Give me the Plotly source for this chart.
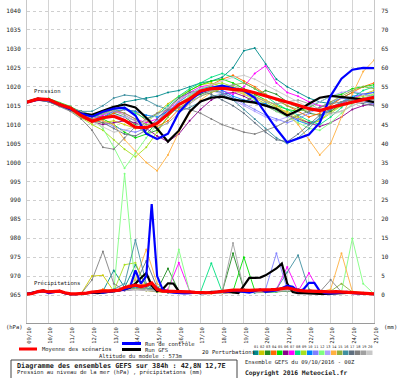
import plotly.graph_objects as go

# ---------------- data ----------------
hours12 = list(range(0, 385, 12))
hours6 = list(range(0, 385, 6))
day_ticks = list(range(0, 385, 24))
day_labels = ["09/10", "10/10", "11/10", "12/10", "13/10", "14/10", "15/10", "16/10", "17/10",
              "18/10", "19/10", "20/10", "21/10", "22/10", "23/10", "24/10", "25/10"]
hpa_ticks = list(range(965, 1041, 5))
mm_ticks = list(range(0, 76, 5))

member_colors = ["#008b8b", "#c8c800", "#228b22", "#ff6a00", "#00e000", "#8b008b", "#ff00ff",
                 "#00e080", "#a8e020", "#0080ff", "#8080ff", "#80ff80", "#b0a0ff", "#ffb040",
                 "#90b040", "#4090a0", "#607080", "#808080", "#a0a0a0", "#c8c8c8"]

# Ensemble mean / control / GFS sea-level pressure (hPa), 12h steps
mean_p = [1015.9, 1016.8, 1016.6, 1015.3, 1014.4, 1012.4, 1010.9, 1011.8, 1012.2, 1011.1, 1009.3,
          1009.2, 1010.3, 1012.9, 1015.3, 1016.8, 1018.9, 1019.5, 1019.6, 1019.3, 1019.1, 1018.4,
          1017.6, 1016.8, 1016.1, 1015.1, 1014.2, 1013.7, 1014.5, 1015.3, 1015.9, 1016.6, 1017.2]
ctrl_p = [1015.9, 1016.6, 1016.4, 1015.3, 1014.2, 1012.9, 1012.1, 1013.4, 1014.2, 1014.5, 1012.4,
          1007.6, 1006.2, 1007.6, 1013.2, 1016.3, 1018.5, 1019.7, 1020.3, 1019.7, 1018.9, 1017.1,
          1012.9, 1008.9, 1005.3, 1006.3, 1007.4, 1010.5, 1017.6, 1022.1, 1024.5, 1025.0, 1024.9]
gfs_p = [1015.9, 1016.8, 1016.6, 1015.3, 1014.2, 1012.9, 1012.6, 1013.7, 1014.7, 1015.3, 1014.5,
         1011.8, 1008.9, 1005.5, 1008.4, 1013.4, 1016.1, 1017.1, 1017.4, 1016.6, 1016.1, 1015.8,
         1015.0, 1014.2, 1012.4, 1013.7, 1015.5, 1017.1, 1017.6, 1017.4, 1017.0, 1016.6, 1015.9]

# Precipitation (mm), 6h steps
mean_r = [0.2, 0.4, 0.9, 1.1, 0.8, 0.9, 1.0, 0.6, 0.3, 0.3, 0.3, 0.5, 0.8, 1.0, 1.0, 1.0, 1.1,
          1.3, 2.0, 2.4, 2.6, 2.2, 2.5, 3.2, 1.5, 1.0, 1.0, 1.0, 0.9, 0.9, 0.8, 0.7, 0.6, 0.6,
          0.6, 0.8, 1.0, 1.2, 1.3, 1.3, 1.2, 1.2, 1.3, 1.3, 1.2, 1.4, 1.5, 1.7, 1.9, 1.6, 1.2,
          1.1, 1.0, 0.9, 0.8, 0.7, 0.8, 0.9, 0.8, 0.7, 0.8, 0.6, 0.5, 0.4, 0.3]
ctrl_r = [0.3, 0.5, 0.8, 1.0, 0.5, 0.8, 1.0, 0.5, 0.2, 0.2, 0.3, 0.5, 0.6, 0.8, 0.6, 0.8, 1.0,
          1.2, 1.5, 2.0, 6.5, 3.0, 5.0, 24.0, 5.0, 1.5, 0.8, 0.6, 0.5, 0.4, 0.5, 0.6, 0.5, 0.5,
          0.6, 0.8, 1.0, 0.8, 1.2, 1.0, 0.8, 0.6, 1.0, 1.5, 0.8, 1.0, 1.2, 1.8, 2.5, 2.2, 1.0,
          1.5, 3.2, 3.2, 1.0, 0.5, 0.4, 0.5, 0.6, 0.8, 0.5, 0.4, 0.5, 0.3, 0.2]
gfs_r = [0.3, 0.6, 1.0, 1.2, 0.8, 0.9, 1.0, 0.5, 0.2, 0.2, 0.3, 0.5, 0.6, 0.5, 0.6, 0.8, 1.0,
         1.2, 1.5, 2.0, 3.0, 4.5, 5.8, 2.5, 1.0, 1.5, 3.1, 3.0, 1.0, 0.6, 0.8, 0.6, 0.5, 0.5,
         0.8, 0.8, 1.0, 0.8, 0.6, 0.5, 2.5, 4.5, 4.5, 4.6, 5.2, 6.0, 7.0, 8.3, 3.0, 0.8, 0.5,
         0.5, 0.4, 0.4, 0.3, 0.3, 0.4, 0.4, 0.5, 0.5, 0.6, 0.5, 0.4, 0.3, 0.2]

# 20 perturbations: pressure (hPa), 12h steps
pres_01 = [1016.0, 1016.9, 1016.4, 1015.6, 1014.6, 1013.0, 1012.0, 1013.0, 1014.5, 1016.0, 1016.5, 1017.0, 1017.5, 1018.5, 1019.0, 1020.0, 1021.0, 1021.5, 1022.5, 1025.0, 1029.5, 1030.2, 1026.0, 1022.0, 1020.0, 1018.5, 1017.0, 1016.0, 1015.5, 1017.0, 1018.5, 1018.0, 1017.5]
pres_02 = [1015.8, 1016.5, 1016.8, 1015.2, 1014.0, 1012.5, 1011.0, 1010.5, 1011.0, 1010.0, 1009.0, 1010.5, 1013.0, 1015.5, 1017.5, 1019.0, 1020.5, 1021.0, 1020.0, 1019.0, 1018.5, 1017.0, 1015.5, 1014.0, 1013.5, 1012.0, 1010.5, 1011.0, 1013.5, 1015.0, 1016.5, 1018.0, 1019.0]
pres_03 = [1016.2, 1017.0, 1016.2, 1015.0, 1014.5, 1013.5, 1012.5, 1012.0, 1013.0, 1012.0, 1010.0, 1007.5, 1008.5, 1012.0, 1015.0, 1017.0, 1018.0, 1019.0, 1018.5, 1017.0, 1016.0, 1017.5, 1019.0, 1018.0, 1016.0, 1014.5, 1013.0, 1012.5, 1013.5, 1015.5, 1017.0, 1016.0, 1015.5]
pres_04 = [1015.9, 1016.6, 1016.3, 1015.5, 1014.0, 1012.0, 1010.5, 1011.5, 1013.0, 1014.0, 1013.5, 1011.0, 1009.5, 1011.0, 1014.0, 1016.5, 1018.5, 1020.5, 1022.0, 1023.0, 1021.5, 1020.0, 1018.0, 1016.5, 1015.0, 1013.5, 1012.0, 1013.0, 1015.0, 1017.0, 1018.5, 1020.0, 1021.0]
pres_05 = [1016.0, 1016.8, 1016.9, 1015.8, 1014.8, 1013.2, 1012.2, 1011.5, 1010.0, 1008.0, 1006.5, 1007.5, 1010.5, 1014.0, 1017.0, 1019.0, 1020.5, 1021.5, 1022.0, 1021.0, 1019.5, 1018.0, 1016.5, 1015.0, 1014.0, 1013.5, 1014.5, 1016.0, 1017.5, 1018.0, 1019.5, 1020.0, 1020.5]
pres_06 = [1015.7, 1016.4, 1016.1, 1015.0, 1013.8, 1012.0, 1010.8, 1010.0, 1010.5, 1011.0, 1010.5, 1009.0, 1007.0, 1005.5, 1007.5, 1011.0, 1014.0, 1016.5, 1018.0, 1018.5, 1017.5, 1016.0, 1015.0, 1013.5, 1012.5, 1011.5, 1010.5, 1009.5, 1010.5, 1012.0, 1014.0, 1015.0, 1015.5]
pres_07 = [1016.1, 1016.9, 1016.6, 1015.4, 1014.3, 1012.8, 1011.5, 1012.5, 1013.5, 1013.0, 1011.5, 1010.5, 1011.5, 1014.0, 1016.5, 1018.5, 1020.0, 1020.5, 1019.0, 1018.0, 1020.0, 1023.5, 1025.5, 1021.0, 1018.5, 1017.5, 1016.0, 1015.0, 1014.5, 1015.5, 1017.0, 1018.0, 1018.5]
pres_08 = [1015.8, 1016.7, 1016.5, 1015.3, 1014.4, 1013.0, 1012.0, 1012.8, 1014.0, 1014.5, 1013.0, 1011.5, 1012.5, 1015.0, 1017.5, 1019.5, 1021.0, 1022.5, 1023.5, 1022.5, 1021.0, 1019.5, 1017.5, 1015.5, 1014.0, 1012.5, 1011.0, 1010.0, 1012.0, 1014.5, 1017.0, 1019.0, 1020.0]
pres_09 = [1016.0, 1016.5, 1016.0, 1015.0, 1013.8, 1011.8, 1010.0, 1008.5, 1006.0, 1003.5, 1001.5, 1004.0, 1008.0, 1012.0, 1015.0, 1017.5, 1019.5, 1020.5, 1021.0, 1020.0, 1019.0, 1017.5, 1016.0, 1014.5, 1013.0, 1011.5, 1010.0, 1011.0, 1013.0, 1015.0, 1016.5, 1017.5, 1018.0]
pres_10 = [1016.1, 1016.8, 1016.4, 1015.4, 1014.2, 1012.6, 1011.3, 1012.0, 1013.5, 1014.0, 1013.5, 1012.5, 1012.0, 1013.5, 1016.0, 1018.0, 1019.5, 1020.0, 1019.0, 1017.5, 1016.5, 1016.0, 1015.5, 1014.0, 1012.5, 1011.0, 1010.0, 1011.5, 1014.0, 1016.0, 1017.5, 1018.0, 1018.5]
pres_11 = [1015.9, 1016.6, 1016.6, 1015.6, 1014.5, 1013.3, 1012.3, 1011.0, 1009.5, 1008.5, 1008.0, 1009.0, 1011.0, 1013.5, 1016.0, 1018.0, 1019.0, 1019.5, 1018.5, 1017.0, 1015.5, 1014.0, 1012.5, 1011.5, 1010.5, 1011.5, 1013.0, 1014.5, 1016.0, 1017.0, 1016.5, 1016.0, 1015.5]
pres_12 = [1016.0, 1016.8, 1016.3, 1015.2, 1014.0, 1012.5, 1011.5, 1009.0, 1004.0, 998.5, 1002.5, 1006.5, 1010.0, 1013.0, 1015.5, 1017.5, 1019.0, 1020.0, 1020.5, 1019.0, 1018.0, 1016.5, 1015.0, 1013.5, 1012.0, 1010.5, 1009.0, 1008.5, 1010.5, 1013.0, 1015.5, 1017.0, 1018.0]
pres_13 = [1015.8, 1016.5, 1016.2, 1015.1, 1014.1, 1012.4, 1011.2, 1011.8, 1012.5, 1012.0, 1011.0, 1010.0, 1010.5, 1012.5, 1015.0, 1017.0, 1018.5, 1019.0, 1018.0, 1016.5, 1015.0, 1013.5, 1012.0, 1011.0, 1012.0, 1013.5, 1015.0, 1016.0, 1017.5, 1018.5, 1019.0, 1018.0, 1017.0]
pres_14 = [1016.0, 1016.7, 1016.5, 1015.5, 1014.5, 1013.0, 1011.8, 1011.0, 1010.0, 1006.0, 1003.0, 1000.0, 997.8, 1002.0, 1008.0, 1013.0, 1016.5, 1018.5, 1019.5, 1019.0, 1018.0, 1017.0, 1016.5, 1015.0, 1013.0, 1010.0, 1006.0, 1002.0, 1005.0, 1012.0, 1018.0, 1024.0, 1027.0]
pres_15 = [1016.1, 1016.9, 1016.7, 1015.7, 1014.7, 1013.1, 1012.1, 1013.0, 1014.0, 1013.0, 1011.5, 1010.0, 1010.5, 1012.5, 1014.5, 1016.0, 1017.5, 1018.5, 1019.5, 1020.5, 1021.0, 1019.5, 1018.0, 1016.5, 1015.0, 1014.0, 1013.5, 1014.5, 1016.0, 1017.5, 1019.0, 1020.0, 1019.5]
pres_16 = [1015.9, 1016.6, 1016.0, 1015.0, 1014.2, 1013.5, 1013.5, 1015.0, 1017.0, 1017.8, 1017.5, 1016.5, 1015.0, 1014.0, 1013.5, 1014.5, 1016.0, 1017.5, 1018.0, 1016.5, 1014.0, 1011.5, 1009.0, 1006.5, 1005.0, 1006.5, 1009.0, 1012.0, 1014.5, 1016.0, 1017.0, 1016.5, 1016.0]
pres_17 = [1016.0, 1016.8, 1016.4, 1015.3, 1014.3, 1012.7, 1011.4, 1010.5, 1009.0, 1007.5, 1007.0, 1008.5, 1011.5, 1014.5, 1017.0, 1018.5, 1019.0, 1018.0, 1016.5, 1015.0, 1013.0, 1010.5, 1008.0, 1006.0, 1005.5, 1007.5, 1010.0, 1012.5, 1014.0, 1015.5, 1016.0, 1015.5, 1015.0]
pres_18 = [1015.8, 1016.5, 1016.0, 1014.8, 1013.5, 1011.5, 1008.5, 1004.0, 1003.5, 1006.5, 1009.5, 1011.5, 1013.0, 1014.0, 1014.5, 1014.0, 1013.0, 1011.5, 1010.0, 1009.0, 1008.0, 1007.5, 1008.5, 1009.5, 1011.0, 1012.5, 1013.5, 1014.5, 1015.5, 1016.0, 1016.5, 1017.0, 1016.5]
pres_19 = [1016.2, 1017.0, 1016.7, 1015.6, 1014.6, 1013.3, 1012.5, 1012.8, 1013.5, 1012.5, 1011.0, 1009.5, 1009.0, 1010.5, 1013.0, 1015.5, 1017.5, 1019.0, 1020.0, 1020.5, 1019.0, 1017.5, 1016.0, 1015.5, 1016.0, 1016.5, 1015.5, 1014.0, 1013.0, 1013.5, 1015.0, 1016.0, 1016.5]
pres_20 = [1015.9, 1016.6, 1016.2, 1015.2, 1014.0, 1012.2, 1010.8, 1009.5, 1008.0, 1008.5, 1009.5, 1011.0, 1012.5, 1014.5, 1016.5, 1018.0, 1019.5, 1020.5, 1021.5, 1022.5, 1023.0, 1022.0, 1020.5, 1019.0, 1017.5, 1016.0, 1014.5, 1013.5, 1012.5, 1013.5, 1015.0, 1016.0, 1017.0]

# 20 perturbations: precipitation (mm), 12h steps
rain_01 = [0.2, 0.8, 0.9, 1.0, 0.2, 0.3, 0.5, 1.0, 6.5, 2.0, 8.0, 2.5, 1.0, 0.6, 0.8, 0.5, 0.4, 0.6, 0.5, 0.9, 0.8, 0.6, 0.7, 1.1, 1.5, 1.0, 0.8, 0.5, 0.4, 0.6, 0.8, 0.5, 0.3]
rain_02 = [0.3, 1.0, 0.7, 1.1, 0.3, 0.4, 5.0, 5.2, 1.0, 1.5, 1.8, 1.2, 0.8, 0.7, 0.6, 0.5, 0.6, 0.4, 0.6, 0.7, 1.0, 0.9, 0.8, 0.9, 1.0, 1.2, 0.9, 0.6, 0.5, 0.7, 0.6, 0.4, 0.2]
rain_03 = [0.2, 0.9, 0.8, 0.9, 0.2, 0.2, 0.6, 0.7, 1.0, 1.5, 2.0, 1.4, 1.2, 7.0, 1.0, 0.6, 0.5, 0.5, 0.8, 11.0, 1.5, 0.8, 0.7, 0.8, 1.0, 0.9, 0.7, 0.6, 0.5, 0.5, 0.7, 0.6, 0.3]
rain_04 = [0.3, 0.8, 1.0, 1.2, 0.3, 0.3, 0.8, 1.5, 1.2, 2.0, 2.5, 3.0, 1.5, 0.8, 0.7, 0.5, 0.4, 0.5, 0.4, 0.7, 0.8, 1.0, 1.2, 1.5, 1.8, 1.2, 0.8, 0.6, 0.4, 0.5, 0.6, 0.5, 0.2]
rain_05 = [0.2, 1.0, 0.9, 1.0, 0.2, 0.3, 0.6, 0.8, 0.9, 1.6, 1.8, 1.5, 0.9, 0.9, 0.8, 0.6, 0.6, 0.7, 0.6, 1.0, 10.0, 1.2, 0.8, 1.0, 1.2, 1.0, 0.8, 0.5, 0.5, 0.6, 0.8, 0.5, 0.3]
rain_06 = [0.2, 0.8, 0.8, 1.0, 0.3, 0.3, 0.5, 0.8, 1.0, 1.4, 1.6, 1.8, 1.4, 1.0, 0.8, 0.6, 0.5, 0.5, 0.5, 0.9, 1.0, 0.8, 0.9, 1.2, 2.0, 1.5, 1.0, 0.6, 0.5, 0.6, 0.7, 0.5, 0.3]
rain_07 = [0.3, 0.9, 0.8, 1.1, 0.2, 0.3, 0.6, 0.9, 0.8, 1.2, 1.5, 1.3, 1.0, 1.5, 8.5, 1.0, 0.6, 0.5, 0.6, 0.8, 0.9, 0.8, 1.0, 1.5, 7.4, 1.0, 5.8, 0.8, 0.5, 0.5, 0.6, 0.4, 0.3]
rain_08 = [0.2, 0.9, 0.7, 1.0, 0.2, 0.2, 0.5, 0.8, 0.8, 1.3, 1.5, 1.4, 1.0, 0.8, 0.9, 0.7, 0.8, 8.4, 0.8, 0.8, 0.9, 0.8, 0.7, 0.9, 1.0, 0.9, 0.7, 0.6, 0.5, 0.6, 0.7, 0.5, 0.3]
rain_09 = [0.2, 1.0, 0.8, 0.9, 0.2, 0.3, 0.7, 1.0, 1.0, 8.0, 8.5, 2.0, 1.0, 0.7, 0.7, 0.6, 0.5, 0.6, 0.5, 0.7, 0.8, 0.9, 0.8, 1.0, 1.2, 1.0, 0.8, 0.6, 0.5, 0.5, 0.6, 0.5, 0.3]
rain_10 = [0.3, 0.8, 0.8, 1.0, 0.3, 0.3, 0.6, 0.8, 1.0, 1.5, 2.0, 1.8, 1.2, 0.8, 0.6, 0.5, 0.5, 0.5, 0.6, 0.8, 0.8, 0.8, 0.9, 1.3, 1.5, 1.2, 0.9, 0.6, 0.5, 0.6, 0.7, 0.5, 0.2]
rain_11 = [0.2, 0.9, 0.9, 1.0, 0.2, 0.3, 0.6, 0.7, 0.9, 1.2, 1.6, 1.6, 1.0, 0.7, 0.7, 0.6, 0.5, 0.5, 0.5, 0.8, 0.9, 1.0, 1.5, 11.0, 1.5, 1.0, 0.8, 0.6, 0.5, 0.6, 0.8, 0.5, 0.3]
rain_12 = [0.2, 0.9, 0.8, 1.0, 0.2, 0.3, 0.6, 0.8, 1.0, 32.0, 1.5, 1.4, 1.0, 0.8, 12.0, 0.8, 0.6, 0.5, 0.6, 0.8, 0.8, 0.8, 0.9, 1.0, 1.2, 1.0, 0.8, 0.6, 0.5, 0.8, 14.9, 3.0, 0.3]
rain_13 = [0.3, 0.8, 0.8, 1.0, 0.2, 0.3, 0.5, 0.8, 0.9, 1.4, 1.6, 1.5, 1.1, 0.8, 0.7, 0.6, 0.5, 0.6, 0.5, 0.9, 1.0, 0.9, 1.2, 1.8, 1.5, 1.0, 0.8, 0.6, 0.5, 0.6, 0.7, 0.5, 0.3]
rain_14 = [0.2, 1.0, 0.9, 1.1, 0.3, 0.4, 0.8, 1.0, 1.2, 2.0, 4.0, 12.0, 3.0, 1.0, 0.8, 0.6, 0.6, 0.5, 0.6, 0.8, 1.0, 0.9, 0.8, 1.0, 1.3, 1.1, 0.9, 0.8, 1.5, 11.0, 1.0, 0.6, 0.3]
rain_15 = [0.2, 0.9, 0.8, 1.0, 0.2, 0.3, 0.6, 0.9, 1.0, 1.5, 1.7, 1.6, 1.2, 0.8, 0.7, 0.6, 0.5, 0.5, 0.6, 0.8, 0.9, 0.8, 0.8, 1.0, 1.2, 1.0, 0.8, 0.7, 1.0, 3.0, 0.8, 0.5, 0.3]
rain_16 = [0.3, 0.8, 0.9, 1.0, 0.2, 0.3, 0.6, 0.9, 1.5, 3.0, 14.5, 3.0, 1.2, 0.8, 0.7, 0.5, 0.5, 0.5, 0.6, 0.8, 0.8, 0.9, 1.0, 1.5, 6.0, 10.5, 1.5, 0.6, 0.5, 0.6, 0.7, 0.5, 0.3]
rain_17 = [0.2, 0.9, 0.8, 1.0, 0.2, 0.3, 0.7, 0.8, 1.0, 2.0, 3.0, 9.0, 2.0, 0.9, 0.7, 0.6, 0.5, 0.5, 0.5, 0.9, 1.0, 0.8, 0.9, 1.2, 2.0, 1.5, 0.9, 0.6, 0.5, 0.6, 0.7, 0.5, 0.3]
rain_18 = [0.2, 0.8, 0.8, 0.9, 0.3, 0.4, 4.0, 11.5, 3.0, 1.2, 1.4, 1.2, 0.9, 0.7, 0.6, 0.5, 0.4, 0.5, 0.5, 0.7, 0.8, 0.7, 0.8, 1.0, 1.1, 0.9, 0.7, 0.8, 4.0, 0.8, 0.6, 0.5, 0.3]
rain_19 = [0.3, 1.0, 0.9, 1.0, 0.2, 0.3, 0.6, 0.8, 0.9, 1.3, 1.5, 1.4, 1.0, 0.8, 0.7, 0.6, 0.5, 0.6, 0.8, 13.7, 1.5, 0.8, 0.8, 1.0, 1.1, 0.9, 0.7, 0.6, 0.5, 0.6, 0.7, 0.5, 0.3]
rain_20 = [0.2, 0.8, 0.8, 1.0, 0.2, 0.3, 0.5, 0.7, 0.9, 1.3, 1.4, 1.3, 1.0, 0.8, 0.7, 0.6, 0.5, 0.5, 0.5, 0.8, 0.9, 0.8, 0.9, 1.1, 1.3, 1.0, 0.8, 0.6, 0.5, 0.6, 0.8, 0.5, 0.3]

members_p = [pres_01, pres_02, pres_03, pres_04, pres_05, pres_06, pres_07, pres_08, pres_09, pres_10,
             pres_11, pres_12, pres_13, pres_14, pres_15, pres_16, pres_17, pres_18, pres_19, pres_20]
members_r = [rain_01, rain_02, rain_03, rain_04, rain_05, rain_06, rain_07, rain_08, rain_09, rain_10,
             rain_11, rain_12, rain_13, rain_14, rain_15, rain_16, rain_17, rain_18, rain_19, rain_20]

# ---------------- figure ----------------
MONO = "DejaVu Sans Mono"
TXT = "#222222"
L, R, T, B = 27, 26, 0, 55
W, H = 400, 378
PW, PH = W - L - R, H - T - B


def fx(px):
    return (px - L) / PW


def fy(py):
    return (H - B - py) / PH


fig = go.Figure()

for i in range(20):
    c = member_colors[i]
    fig.add_trace(go.Scatter(x=hours12, y=members_p[i], mode="lines+markers",
                             line=dict(color=c, width=0.9), marker=dict(size=2, color=c),
                             yaxis="y", showlegend=False, hoverinfo="skip"))
    fig.add_trace(go.Scatter(x=hours12, y=members_r[i], mode="lines+markers",
                             line=dict(color=c, width=0.9), marker=dict(size=2, color=c),
                             yaxis="y2", showlegend=False, hoverinfo="skip"))

fig.add_trace(go.Scatter(x=hours12, y=gfs_p, mode="lines", line=dict(color="#000000", width=2.2),
                         yaxis="y", showlegend=False))
fig.add_trace(go.Scatter(x=hours6, y=gfs_r, mode="lines", line=dict(color="#000000", width=2.2),
                         yaxis="y2", showlegend=False))
fig.add_trace(go.Scatter(x=hours12, y=ctrl_p, mode="lines", line=dict(color="#0000ff", width=2.2),
                         yaxis="y", showlegend=False))
fig.add_trace(go.Scatter(x=hours6, y=ctrl_r, mode="lines", line=dict(color="#0000ff", width=2.2),
                         yaxis="y2", showlegend=False))
fig.add_trace(go.Scatter(x=hours12, y=mean_p, mode="lines", line=dict(color="#ff0000", width=3.2),
                         yaxis="y", showlegend=False))
fig.add_trace(go.Scatter(x=hours6, y=mean_r, mode="lines", line=dict(color="#ff0000", width=3.2),
                         yaxis="y2", showlegend=False))

px_per = 284 / 75.0
y_top = 1040 + 11 / px_per
y_bot = 965 - (H - B - 295) / px_per

fig.update_layout(
    width=W, height=H,
    margin=dict(l=L, r=R, t=T, b=B, pad=0),
    paper_bgcolor="white", plot_bgcolor="white",
    font=dict(family=MONO, size=6, color=TXT),
    xaxis=dict(range=[0, 384], tickmode="array", tickvals=day_ticks, ticktext=day_labels,
               tickangle=-90, showgrid=True, gridcolor="#d4d4d4", gridwidth=1,
               showline=True, linecolor="#9a9a9a", linewidth=1, zeroline=False,
               ticks="", ticklabelstandoff=1, ticklabelshift=2,
               tickfont=dict(family=MONO, size=5.5, color=TXT)),
    yaxis=dict(range=[y_bot, y_top], tickmode="array", tickvals=hpa_ticks,
               showgrid=True, gridcolor="#cfcfcf", griddash="dot", gridwidth=1,
               showline=True, linecolor="#c8c8c8", zeroline=False, ticks="",
               ticklabelstandoff=4, tickfont=dict(family=MONO, size=6, color=TXT)),
    yaxis2=dict(range=[y_bot - 965, y_top - 965], tickmode="array", tickvals=mm_ticks,
                overlaying="y", side="right", showgrid=False, zeroline=False,
                showline=True, linecolor="#c8c8c8", ticks="",
                ticklabelstandoff=5, tickfont=dict(family=MONO, size=6, color=TXT)),
    showlegend=False,
)

ann = []


def text(x, y, s, size=5.5, bold=False, xanchor="left"):
    ann.append(dict(x=fx(x), y=fy(y), xref="paper", yref="paper", text=("<b>%s</b>" % s) if bold else s,
                    showarrow=False, xanchor=xanchor, yanchor="middle",
                    font=dict(family=MONO, size=size, color=TXT)))


text(32, 91, "Pression")
text(32, 283, "Précipitations")
text(25, 327, "(hPa)", xanchor="right")
text(382, 327, "(mm)")
text(40, 349, "Moyenne des scénarios")
text(143, 343.5, "Run de contrôle")
text(143, 349.5, "Run GFS")
text(97, 356, "Altitude du modele : 573m")
text(200, 352, "20 Perturbations")
text(15, 365.5, "Diagramme des ensembles GEFS sur 384h : 42,8N 12,7E", size=6.8, bold=True)
text(15, 372.5, "Pression au niveau de la mer (hPa) , précipitations (mm)")
text(243, 362, "Ensemble GEFS du 09/10/2016 - 00Z")
text(243, 373, "Copyright 2016 Meteociel.fr", size=6.3, bold=True)

shapes = []


def hline(x0, x1, y, color, w):
    shapes.append(dict(type="line", xref="paper", yref="paper", x0=fx(x0), x1=fx(x1), y0=fy(y), y1=fy(y),
                       line=dict(color=color, width=w)))


hline(19, 37, 349, "#ff0000", 3)
hline(122, 141, 343.5, "#0000ff", 3)
hline(122, 141, 349.5, "#000000", 3)
shapes.append(dict(type="rect", xref="paper", yref="paper", x0=fx(11), x1=fx(237), y0=fy(360), y1=fy(380),
                   line=dict(color="#444444", width=1), fillcolor="rgba(0,0,0,0)"))
for k in range(20):
    x0 = 253 + 6 * k
    shapes.append(dict(type="rect", xref="paper", yref="paper", x0=fx(x0), x1=fx(x0 + 5.5),
                       y0=fy(355), y1=fy(350.5), line=dict(width=0), fillcolor=member_colors[k]))
    ann.append(dict(x=fx(x0 + 2.8), y=fy(346.5), xref="paper", yref="paper", text="%02d" % (k + 1),
                    showarrow=False, xanchor="center", yanchor="middle",
                    font=dict(family=MONO, size=3.6, color=TXT)))

fig.update_layout(annotations=ann, shapes=shapes)
fig.write_html("out.html", config={"displayModeBar": False},
               post_script="document.body.style.margin='0px';document.body.style.overflow='hidden';")
